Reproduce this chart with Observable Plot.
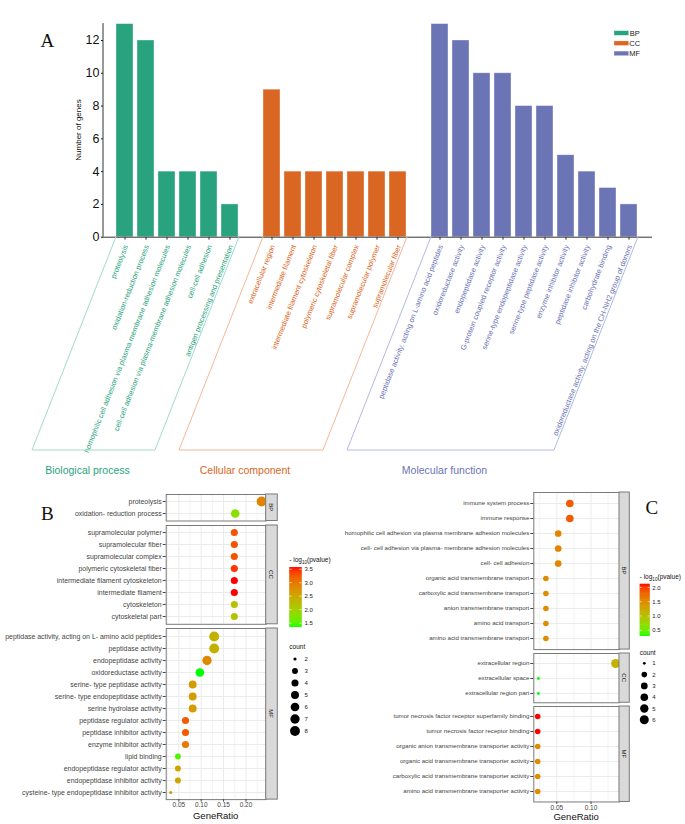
<!DOCTYPE html>
<html>
<head>
<meta charset="utf-8">
<script src="https://cdn.jsdelivr.net/npm/d3@7"></script>
<script src="https://cdn.jsdelivr.net/npm/@observablehq/plot@0.6"></script>
<style>
html,body{margin:0;padding:0;background:#fff;}
#root{position:relative;width:685px;height:824px;overflow:hidden;background:#fff;}
#root svg{position:absolute;overflow:visible;}
</style>
</head>
<body>
<div id="root"></div>
<script>
// ================= DATA =================
// Panel A: number of genes per GO term
const ontologies = ["BP", "CC", "MF"];
const ontologyNames = ["Biological process", "Cellular component", "Molecular function"];
const ontologyColors = ["#28A37D", "#D96623", "#6B74B4"];
const ontologyLight = ["#A3DBC8", "#F3B898", "#B5B9DF"];

const aBPTerms = ["proteolysis", "oxidation-reduction process", "homophilic cell adhesion via plasma membrane adhesion molecules", "cell-cell adhesion via plasma-membrane adhesion molecules", "cell-cell adhesion", "antigen processing and presentation"];
const aBPCounts = [13, 12, 4, 4, 4, 2];
const aCCTerms = ["extracellular region", "intermediate filament", "intermediate filament cytoskeleton", "polymeric cytoskeletal fiber", "supramolecular complex", "supramolecular polymer", "supramolecular fiber"];
const aCCCounts = [9, 4, 4, 4, 4, 4, 4];
const aMFTerms = ["peptidase activity, acting on L-amino acid peptides", "oxidoreductase activity", "endopeptidase activity", "G-protein coupled receptor activity", "serine-type endopeptidase activity", "serine-type peptidase activity", "enzyme inhibitor activity", "peptidase inhibitor activity", "carbohydrate binding", "oxidoreductase activity, acting on the CH-NH2 group of donors"];
const aMFCounts = [13, 12, 10, 10, 8, 8, 5, 4, 3, 2];
const aYTicks = [0, 2, 4, 6, 8, 10, 12];

// Panel B: enrichment dot plot
const bBPTerms = ["proteolysis", "oxidation- reduction process"];
const bBPRatio = [0.235, 0.176];
const bBPCount = [8, 6];
const bBPLogP = [2.9, 1.8];
const bCCTerms = ["supramolecular polymer", "supramolecular fiber", "supramolecular complex", "polymeric cytoskeletal fiber", "intermediate filament cytoskeleton", "intermediate filament", "cytoskeleton", "cytoskeletal part"];
const bCCRatio = [0.174, 0.174, 0.174, 0.174, 0.174, 0.174, 0.174, 0.174];
const bCCCount = [4, 4, 4, 4, 4, 4, 4, 4];
const bCCLogP = [3.3, 3.3, 3.3, 3.45, 3.57, 3.57, 2.2, 2.2];
const bMFTerms = ["peptidase activity, acting on L- amino acid peptides", "peptidase activity", "endopeptidase activity", "oxidoreductase activity", "serine- type peptidase activity", "serine- type endopeptidase activity", "serine hydrolase activity", "peptidase regulator activity", "peptidase inhibitor activity", "enzyme inhibitor activity", "lipid binding", "endopeptidase regulator activity", "endopeptidase inhibitor activity", "cysteine- type endopeptidase inhibitor activity"];
const bMFRatio = [0.129, 0.129, 0.113, 0.097, 0.081, 0.081, 0.081, 0.065, 0.065, 0.065, 0.048, 0.048, 0.048, 0.032];
const bMFCount = [8, 8, 7, 6, 5, 5, 5, 4, 4, 4, 3, 3, 3, 2];
const bMFLogP = [2.4, 2.4, 2.85, 1.37, 2.65, 2.65, 2.65, 3.25, 3.25, 3.0, 1.5, 2.55, 2.55, 2.7];
const bXTicks = [0.05, 0.10, 0.15, 0.20];
const bColorTicks = [1.5, 2.0, 2.5, 3.0, 3.5];
const bCountTicks = [2, 3, 4, 5, 6, 7, 8];

// Panel C: enrichment dot plot
const cBPTerms = ["immune system process", "immune response", "homophilic cell adhesion via plasma membrane adhesion molecules", "cell- cell adhesion via plasma- membrane adhesion molecules", "cell- cell adhesion", "organic acid transmembrane transport", "carboxylic acid transmembrane transport", "anion transmembrane transport", "amino acid transport", "amino acid transmembrane transport"];
const cBPRatio = [0.069, 0.069, 0.052, 0.052, 0.052, 0.034, 0.034, 0.034, 0.034, 0.034];
const cBPCount = [4, 4, 3, 3, 3, 2, 2, 2, 2, 2];
const cBPLogP = [1.85, 1.85, 1.56, 1.56, 1.56, 1.5, 1.5, 1.5, 1.5, 1.5];
const cCCTerms = ["extracellular region", "extracellular space", "extracellular region part"];
const cCCRatio = [0.136, 0.023, 0.023];
const cCCCount = [6, 1, 1];
const cCCLogP = [1.15, 0.31, 0.31];
const cMFTerms = ["tumor necrosis factor receptor superfamily binding", "tumor necrosis factor receptor binding", "organic anion transmembrane transporter activity", "organic acid transmembrane transporter activity", "carboxylic acid transmembrane transporter activity", "amino acid transmembrane transporter activity"];
const cMFRatio = [0.022, 0.022, 0.022, 0.022, 0.022, 0.022];
const cMFCount = [2, 2, 2, 2, 2, 2];
const cMFLogP = [2.12, 2.12, 1.5, 1.5, 1.5, 1.5];
const cXTicks = [0.05, 0.10];
const cColorTicks = [0.5, 1.0, 1.5, 2.0];
const cCountTicks = [1, 2, 3, 4, 5, 6];

// ================= RENDER =================
const FONT = "'Liberation Sans', Arial, Helvetica, sans-serif";
const SERIF = "'Liberation Serif', 'Times New Roman', serif";
const root = document.getElementById("root");
function place(svg, left, top) { svg.style.left = left + "px"; svg.style.top = top + "px"; root.appendChild(svg); return svg; }

// ---------- Panel A ----------
const barsA = [];
[[aBPTerms, aBPCounts], [aCCTerms, aCCCounts], [aMFTerms, aMFCounts]].forEach(([terms, counts], g) =>
  terms.forEach((t, i) => barsA.push({term: t, n: counts[i], go: ontologies[g]})));
const domainA = [...aBPTerms, " ", ...aCCTerms, "  ", ...aMFTerms];
const A_H = 490, A_AXIS = 236.7, A_ML = 103, A_MR = 33, A_BOTTOM = 450, ANGLE = 68.5;
const plotA = Plot.plot({
  width: 685, height: A_H, marginLeft: A_ML, marginRight: A_MR, marginTop: 23.6, marginBottom: A_H - A_AXIS,
  style: {fontFamily: FONT, background: "none", overflow: "visible"},
  x: {type: "band", domain: domainA, padding: 0.2, insetLeft: 7.8, insetRight: 9.5, axis: null},
  y: {domain: [0, 13], axis: null},
  color: {domain: ontologies, range: ontologyColors},
  marks: [
    Plot.barY(barsA, {x: "term", y: "n", fill: "go", stroke: "#fff", strokeOpacity: 0.45, strokeWidth: 0.8}),
    Plot.ruleY([0], {stroke: "#333", strokeWidth: 1}),
    Plot.axisY({ticks: aYTicks, tickSize: 2, tickPadding: 2, fontSize: 12.5, color: "#111", label: null}),
    Plot.axisX({ticks: barsA.map(d => d.term), tickSize: 3, tickFormat: () => "", color: "#333", label: null}),
    Plot.text(barsA, {x: "term", frameAnchor: "bottom", text: "term", rotate: -ANGLE, textAnchor: "end", lineAnchor: "middle", fill: "go", fontSize: 7.4, dx: 1, dy: 8})
  ]
});
place(plotA, 0, 0);
{
  const sx = plotA.scale("x"), sy = plotA.scale("y");
  const g = d3.select(plotA);
  g.append("line").attr("x1", A_ML).attr("x2", A_ML).attr("y1", sy.apply(13) - 0.5).attr("y2", sy.apply(0))
    .attr("stroke", "#333").attr("stroke-width", 1);
  const slant = (A_BOTTOM - A_AXIS) / Math.tan(ANGLE * Math.PI / 180);
  [aBPTerms, aCCTerms, aMFTerms].forEach((terms, i) => {
    const x1 = sx.apply(terms[0]), x2 = sx.apply(terms[terms.length - 1]) + sx.bandwidth + 1;
    g.append("path").attr("d", `M${x1},${A_AXIS}L${x1 - slant},${A_BOTTOM}L${x2 - slant},${A_BOTTOM}L${x2},${A_AXIS}`)
      .attr("fill", "none").attr("stroke", ontologyLight[i]).attr("stroke-width", 1);
    g.append("text").attr("x", (x1 + x2) / 2 - slant - 6).attr("y", 474).attr("text-anchor", "middle")
      .attr("font-size", 10.5).attr("fill", ontologyColors[i]).text(ontologyNames[i]);
  });
  g.append("text").attr("transform", "translate(80.5,130) rotate(-90)").attr("text-anchor", "middle")
    .attr("font-size", 8).attr("fill", "#111").text("Number of genes");
  ontologies.forEach((o, i) => {
    const y = 30.7 + i * 10.2;
    g.append("rect").attr("x", 614).attr("y", y).attr("width", 14.7).attr("height", 4.6)
      .attr("fill", ontologyColors[i]).attr("stroke", "#fff").attr("stroke-opacity", 0.5).attr("stroke-width", 0.6);
    g.append("text").attr("x", 634.7).attr("y", y + 2.3).attr("dy", "0.35em").attr("font-size", 7.5).attr("fill", "#222").text(o);
  });
}

// ---------- Dot panels (B and C) ----------
function makeRows(terms, ratio, count, logp) { return terms.map((t, i) => ({term: t, ratio: ratio[i], count: count[i], logp: logp[i]})); }
function padExtent(vals, f) { const [a, b] = d3.extent(vals); const p = (b - a) * f; return [a - p, b + p]; }

function dotPanel(facets, o) {
  const all = facets.flatMap(f => f.rows);
  const xDomain = padExtent(all.map(d => d.ratio), 0.05);
  const cDomain = d3.extent(all, d => d.logp);
  const cnt = d3.extent(all, d => d.count);
  const step = o.xTicks[1] - o.xTicks[0];
  const minor = d3.range(o.xTicks[0] - step / 2, o.xTicks[o.xTicks.length - 1] + step, step)
    .filter(v => v > xDomain[0] && v < xDomain[1]);
  let top = o.top, last;
  facets.forEach((f, k) => {
    const showX = k === facets.length - 1;
    const h = (f.rows.length - 1 + 1.2) * o.step;
    const mb = showX ? 24 : 0;
    const marks = [
      Plot.gridX({ticks: minor, stroke: "#ebebeb", strokeOpacity: 1, strokeWidth: 0.6}),
      Plot.gridX({ticks: o.xTicks, stroke: "#ebebeb", strokeOpacity: 1, strokeWidth: 1}),
      Plot.gridY({stroke: "#ebebeb", strokeOpacity: 1, strokeWidth: 1}),
      Plot.dot(f.rows, {x: "ratio", y: "term", r: d => Math.sqrt((d.count - cnt[0]) / (cnt[1] - cnt[0])), fill: "logp"}),
      Plot.frame({stroke: "#7a7a7a", strokeWidth: 1}),
      Plot.axisY({tickSize: 3, tickPadding: 1.5, fontSize: o.labelSize, color: "#444", label: null})
    ];
    if (showX) marks.push(Plot.axisX({ticks: o.xTicks, tickFormat: d3.format(".2f"), tickSize: 2.5, tickPadding: 0.5, fontSize: 6.5, color: "#444", label: null}));
    const p = Plot.plot({
      width: o.width, height: h + mb, marginTop: 0, marginBottom: mb,
      marginLeft: o.frameL - o.left, marginRight: o.left + o.width - o.frameR,
      style: {fontFamily: FONT, background: "none", overflow: "visible"},
      x: {domain: xDomain, axis: null},
      y: {type: "point", domain: f.rows.map(d => d.term), padding: 0.6, axis: null},
      color: {type: "linear", domain: cDomain, range: ["#00ff00", "#ff0000"], interpolate: "lab"},
      r: {type: "linear", domain: [0, 1], range: o.rRange},
      marks
    });
    place(p, o.left, top);
    const g = d3.select(p);
    const xr = o.frameR - o.left;
    g.append("rect").attr("x", xr).attr("y", 0).attr("width", o.stripW).attr("height", h)
      .attr("fill", "#d9d9d9").attr("stroke", "#7a7a7a").attr("stroke-width", 1);
    g.append("text").attr("transform", `translate(${xr + o.stripW / 2},${h / 2}) rotate(90)`)
      .attr("text-anchor", "middle").attr("dy", "0.35em").attr("font-size", 6).attr("fill", "#1a1a1a").text(f.label);
    top += h + o.gap;
    last = p;
  });
  // overlay legends
  const ov = d3.select(root).append("svg").attr("width", 685).attr("height", 824)
    .style("left", "0px").style("top", "0px").style("font-family", FONT);
  const cs = last.scale("color"), rs = last.scale("r");
  ov.append("text").attr("x", (o.frameL + o.frameR) / 2).attr("y", o.titleY).attr("text-anchor", "middle")
    .attr("font-size", 9.5).attr("fill", "#111").text("GeneRatio");
  const L = o.legend;
  const t = ov.append("text").attr("x", L.x).attr("y", L.titleY).attr("font-size", 6.5).attr("fill", "#111");
  t.append("tspan").text("- log");
  t.append("tspan").attr("font-size", 4.6).attr("dy", 1.8).text("10");
  t.append("tspan").attr("dy", -1.8).text("(pvalue)");
  const n = 60, yOf = v => L.barY + L.barH - (v - cDomain[0]) / (cDomain[1] - cDomain[0]) * L.barH;
  for (let i = 0; i < n; i++) {
    const v0 = cDomain[0] + (cDomain[1] - cDomain[0]) * i / n, v1 = cDomain[0] + (cDomain[1] - cDomain[0]) * (i + 1) / n;
    ov.append("rect").attr("x", L.x).attr("width", L.barW).attr("y", yOf(v1) - 0.3).attr("height", yOf(v0) - yOf(v1) + 0.6)
      .attr("fill", cs.apply((v0 + v1) / 2));
  }
  o.colorTicks.forEach(v => {
    const y = yOf(v);
    ov.append("line").attr("x1", L.x).attr("x2", L.x + L.barW * 0.2).attr("y1", y).attr("y2", y).attr("stroke", "#fff").attr("stroke-width", 0.6);
    ov.append("line").attr("x1", L.x + L.barW * 0.8).attr("x2", L.x + L.barW).attr("y1", y).attr("y2", y).attr("stroke", "#fff").attr("stroke-width", 0.6);
    ov.append("text").attr("x", L.labelX).attr("y", y).attr("dy", "0.35em").attr("font-size", 6).attr("fill", "#222").text(d3.format(".1f")(v));
  });
  ov.append("text").attr("x", L.x).attr("y", L.countTitleY).attr("font-size", 6.5).attr("fill", "#111").text("count");
  o.countTicks.forEach((c, i) => {
    const y = L.countY + i * L.countStep;
    ov.append("circle").attr("cx", L.dotX).attr("cy", y).attr("r", rs.apply(Math.sqrt((c - cnt[0]) / (cnt[1] - cnt[0])))).attr("fill", "#000");
    ov.append("text").attr("x", L.labelX).attr("y", y).attr("dy", "0.35em").attr("font-size", 6).attr("fill", "#222").text(c);
  });
}

dotPanel([
  {label: "BP", rows: makeRows(bBPTerms, bBPRatio, bBPCount, bBPLogP)},
  {label: "CC", rows: makeRows(bCCTerms, bCCRatio, bCCCount, bCCLogP)},
  {label: "MF", rows: makeRows(bMFTerms, bMFRatio, bMFCount, bMFLogP)}
], {
  left: 0, width: 345, frameL: 165.7, frameR: 265.7, top: 493.8, step: 12.05, gap: 4.5, stripW: 11.6, labelSize: 6.95,
  xTicks: bXTicks, colorTicks: bColorTicks, countTicks: bCountTicks, rRange: [1.6, 4.95], titleY: 818.5,
  legend: {x: 289.3, titleY: 562, barY: 567.3, barW: 12.4, barH: 59.4, labelX: 304.5, countTitleY: 649, countY: 659, countStep: 12, dotX: 295}
});

dotPanel([
  {label: "BP", rows: makeRows(cBPTerms, cBPRatio, cBPCount, cBPLogP)},
  {label: "CC", rows: makeRows(cCCTerms, cCCRatio, cCCCount, cCCLogP)},
  {label: "MF", rows: makeRows(cMFTerms, cMFRatio, cMFCount, cMFLogP)}
], {
  left: 345, width: 340, frameL: 533.3, frameR: 619, top: 492.3, step: 15.4, gap: 3.9, stripW: 10.3, labelSize: 6.15,
  xTicks: cXTicks, colorTicks: cColorTicks, countTicks: cCountTicks, rRange: [1.4, 4.5], titleY: 819.5,
  legend: {x: 639.7, titleY: 579, barY: 584, barW: 10, barH: 51.7, labelX: 652.3, countTitleY: 655, countY: 663.3, countStep: 11.3, dotX: 644.3}
});

// ---------- panel letters ----------
{
  const ov = d3.select(root).append("svg").attr("width", 685).attr("height", 824).style("left", "0px").style("top", "0px");
  [["A", 40.5, 46.5], ["B", 41, 519.5], ["C", 645.5, 513.5]].forEach(([s, x, y]) =>
    ov.append("text").attr("x", x).attr("y", y).attr("font-family", SERIF).attr("font-size", 19).attr("fill", "#111").text(s));
}
</script>
</body>
</html>
